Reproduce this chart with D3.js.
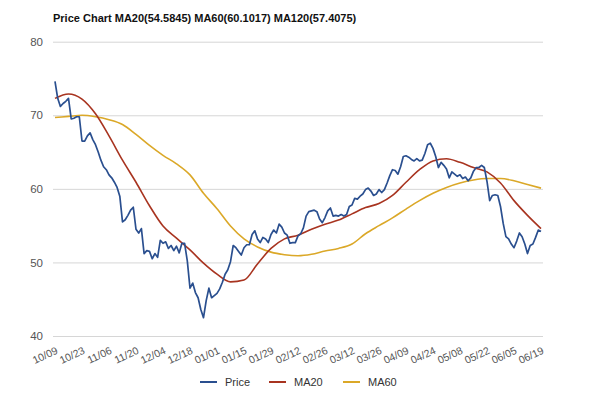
<!DOCTYPE html>
<html><head><meta charset="utf-8">
<script src="https://cdn.jsdelivr.net/npm/d3@7"></script>
<style>
html,body{margin:0;padding:0;background:#fff;}
svg{display:block;font-family:"Liberation Sans",Arial,sans-serif;}
</style></head>
<body><svg id="chart" width="600" height="393"></svg>
<script>
const titleText = "Price Chart MA20(54.5845) MA60(60.1017) MA120(57.4075)";
const xTickLabels = ["10/09","10/23","11/06","11/20","12/04","12/18","01/01","01/15","01/29","02/12","02/26","03/12","03/26","04/09","04/24","05/08","05/22","06/05","06/19"];
const yTicks = [40,50,60,70,80];
const price = [74.6,72.3,71.2,71.6,71.9,72.3,69.5,69.6,69.8,69.8,66.5,66.5,67.2,67.6,66.7,66.0,65.0,63.9,63.0,62.6,
61.9,61.5,60.9,60.2,59.0,55.5,55.8,56.4,57.1,57.5,54.5,54.0,54.6,51.2,51.6,51.5,50.5,51.2,50.7,53.0,
52.6,52.8,51.9,52.3,51.6,52.2,51.3,52.6,52.6,50.2,46.5,47.2,45.9,45.2,43.6,42.5,44.8,46.5,45.2,45.5,
45.8,46.4,47.3,48.4,49.0,50.1,52.3,52.0,51.5,51.0,52.0,52.4,52.4,53.8,54.3,53.2,52.7,53.4,53.2,52.7,
53.8,54.4,54.0,55.2,54.8,54.0,53.7,52.6,52.7,52.7,53.6,53.9,54.7,56.3,56.9,57.0,57.1,56.9,55.9,55.4,
56.1,57.0,57.4,56.3,56.4,56.3,56.5,56.3,56.5,57.6,57.8,58.7,58.6,59.0,59.3,59.9,60.1,59.7,59.1,59.3,
59.9,59.5,59.9,60.8,61.8,62.6,62.5,62.0,63.0,64.4,64.5,64.3,64.0,63.8,64.1,63.8,63.9,64.8,66.0,66.2,
65.5,64.4,62.9,63.6,63.2,62.7,61.5,62.3,62.0,61.7,61.9,61.4,61.6,61.1,61.5,62.4,62.9,62.9,63.2,62.9,
61.0,58.4,59.1,59.2,59.1,57.6,55.3,53.5,53.2,52.5,52.0,52.9,54.0,53.5,52.5,51.2,52.3,52.5,53.4,54.4,54.2];
// moving averages read every 5 sessions
const maStep = 5;
const ma20 = [72.3,72.9,72.2,70.2,67.2,63.9,60.9,57.7,54.95,53.3,51.7,49.9,48.4,47.35,47.6,49.8,51.9,53.2,53.7,54.5,
55.2,55.75,56.6,57.45,58.0,59.1,60.9,62.6,63.8,64.1,63.6,62.9,62.3,60.8,58.4,56.4,54.6];
const ma60 = [69.7,69.85,70.0,69.8,69.4,68.75,67.4,65.9,64.55,63.4,61.9,59.4,57.3,54.95,53.2,52.1,51.4,51.05,50.9,51.1,
51.55,51.9,52.5,53.9,55.0,56.05,57.25,58.4,59.4,60.2,60.8,61.2,61.4,61.4,61.1,60.6,60.1];
const seriesNames = ["Price","MA20","MA60"];
const colors = ["#2a4f8f","#a83420","#dba828"];

const svg = d3.select("#chart");
const x = d3.scaleLinear().domain([0, price.length-1]).range([55, 541]);
const y = d3.scaleLinear().domain([40, 80]).range([336, 41.7]);

svg.append("text").attr("x",53).attr("y",22).attr("font-size",11).attr("font-weight","bold")
  .attr("fill","#111").text(titleText);

// gridlines + y labels
const yAxis = d3.axisLeft(y).tickValues(yTicks).tickSize(-490).tickPadding(10);
const gy = svg.append("g").attr("transform","translate(53,0)").call(yAxis);
gy.select(".domain").remove();
gy.selectAll(".tick line").attr("stroke","#d6d6d6").attr("stroke-width",1);
gy.selectAll(".tick text").attr("font-size",11.5).attr("fill","#555").attr("font-family","Liberation Sans, Arial, sans-serif");

// x labels
const xTickVals = xTickLabels.map((d,i)=>i*10);
const xAxis = d3.axisBottom(x).tickValues(xTickVals).tickFormat((d,i)=>xTickLabels[i]).tickSize(0).tickPadding(0);
const gx = svg.append("g").attr("transform","translate(0,336)").call(xAxis);
gx.select(".domain").remove();
gx.selectAll(".tick text").attr("font-size",10.5).attr("fill","#555")
  .attr("font-family","Liberation Sans, Arial, sans-serif")
  .attr("text-anchor","end").attr("dy",null).attr("y",0)
  .attr("transform","translate(3,17) rotate(-25)");

const linePrice = d3.line().x((d,i)=>x(i)).y(d=>y(d)).curve(d3.curveLinear);
const lineMA = d3.line().x((d,i)=>x(i*maStep)).y(d=>y(d)).curve(d3.curveMonotoneX);

svg.append("path").datum(ma60).attr("d",lineMA).attr("fill","none").attr("stroke",colors[2]).attr("stroke-width",1.6);
svg.append("path").datum(ma20).attr("d",lineMA).attr("fill","none").attr("stroke",colors[1]).attr("stroke-width",1.6);
svg.append("path").datum(price).attr("d",linePrice).attr("fill","none").attr("stroke",colors[0]).attr("stroke-width",1.7).attr("stroke-linejoin","round");

// legend
const legendX = [200, 269, 343];
const lg = svg.append("g");
seriesNames.forEach((n,i)=>{
  lg.append("line").attr("x1",legendX[i]).attr("x2",legendX[i]+17).attr("y1",382).attr("y2",382)
    .attr("stroke",colors[i]).attr("stroke-width",2);
  lg.append("text").attr("x",legendX[i]+25).attr("y",386).attr("font-size",11).attr("fill","#333").text(n);
});
</script></body></html>
